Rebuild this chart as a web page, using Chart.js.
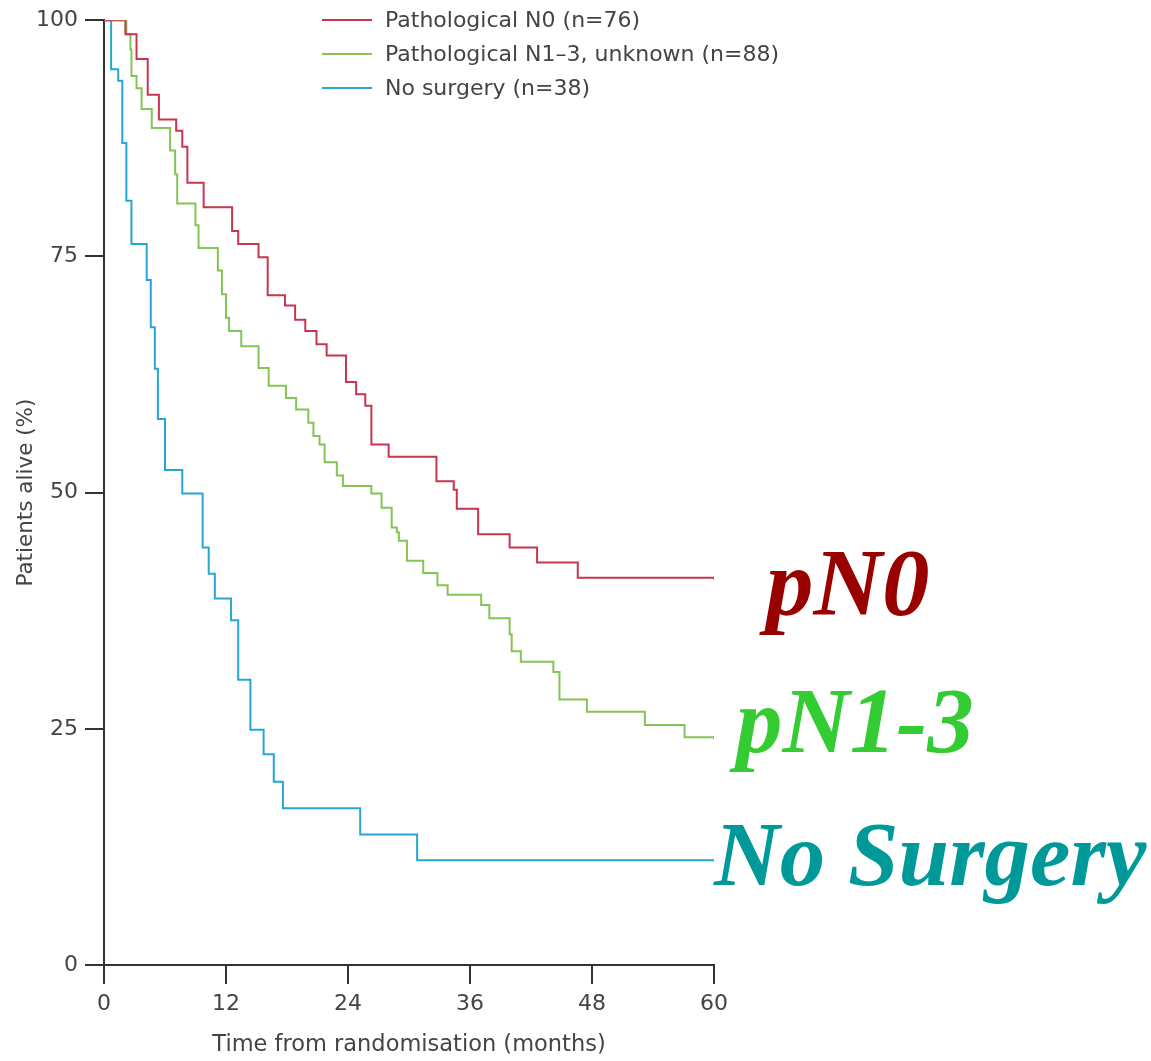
<!DOCTYPE html>
<html>
<head>
<meta charset="utf-8">
<script src="https://cdn.jsdelivr.net/npm/chart.js@4"></script>
<style>
  html, body { margin: 0; padding: 0; background: #fff; }
  #wrap { width: 1151px; height: 1061px; }
</style>
</head>
<body>
<div id="wrap"><canvas id="kmChart" width="1151" height="1061"></canvas></div>
<script>
// ===============================
// DATA
// ===============================
const seriesLabels = ['Pathological N0 (n=76)', 'Pathological N1\u20133, unknown (n=88)', 'No surgery (n=38)'];
const seriesColors = ['#c7354f', '#84c454', '#23a7d4'];
const sideLabels = ['pN0', 'pN1-3', 'No Surgery'];
const sideColors = ['#990000', '#33cc33', '#009999'];

const n0Months = [0, 2.1, 3.2, 4.3, 5.4, 7.1, 7.7, 8.2, 9.8, 12.6, 13.2, 15.2, 16.1, 17.8, 18.8, 19.8, 20.9, 21.9, 23.8, 24.8, 25.7, 26.3, 28.0, 32.7, 34.4, 34.7, 36.8, 39.9, 42.6, 46.6, 60];
const n0Alive = [100, 98.5, 95.9, 92.1, 89.5, 88.3, 86.6, 82.8, 80.2, 77.7, 76.3, 74.9, 70.9, 69.8, 68.3, 67.1, 65.7, 64.5, 61.7, 60.4, 59.2, 55.1, 53.8, 51.2, 50.3, 48.3, 45.6, 44.2, 42.6, 41.0, 40.8];

const n13Months = [0, 1.8, 2.2, 2.6, 2.7, 3.2, 3.7, 4.7, 6.5, 7.0, 7.2, 9.0, 9.3, 11.2, 11.6, 12.0, 12.3, 13.5, 15.2, 16.2, 17.9, 18.9, 20.1, 20.6, 21.2, 21.7, 22.9, 23.5, 26.3, 27.3, 28.3, 28.8, 29.0, 29.8, 31.4, 32.8, 33.8, 37.1, 37.9, 39.9, 40.1, 41.0, 44.2, 44.8, 47.5, 53.2, 57.1, 60];
const n13Alive = [100, 100, 98.5, 96.9, 94.1, 92.8, 90.6, 88.6, 86.2, 83.7, 80.6, 78.3, 75.9, 73.5, 71.0, 68.5, 67.1, 65.5, 63.2, 61.3, 60.0, 58.8, 57.4, 56.0, 55.1, 53.2, 51.8, 50.7, 49.9, 48.4, 46.3, 45.8, 44.9, 42.8, 41.5, 40.2, 39.2, 38.1, 36.7, 35.0, 33.2, 32.1, 31.0, 28.1, 26.8, 25.4, 24.1, 23.9];

const noSurgMonths = [0, 0.7, 1.4, 1.8, 2.2, 2.7, 4.2, 4.6, 5.0, 5.3, 6.0, 7.7, 9.7, 10.3, 10.9, 12.5, 13.2, 14.4, 15.7, 16.7, 17.6, 25.2, 30.8, 60];
const noSurgAlive = [100, 94.8, 93.6, 87.0, 80.9, 76.3, 72.5, 67.5, 63.1, 57.8, 52.4, 49.9, 44.2, 41.4, 38.8, 36.5, 30.2, 24.9, 22.3, 19.4, 16.6, 13.8, 11.1, 11.1];

const xTicks = [0, 12, 24, 36, 48, 60];
const yTicks = [0, 25, 50, 75, 100];

const toPoints = (xs, ys) => xs.map((x, i) => ({ x: x, y: ys[i] }));

// ===============================
// TEXTS DRAWN ON TOP (legend, axis titles, big labels)
// ===============================
const overlayPlugin = {
  id: 'overlay',
  afterDraw(chart) {
    const ctx = chart.ctx;
    const area = chart.chartArea;
    ctx.save();

    // legend
    ctx.font = '22px "DejaVu Sans"';
    ctx.textBaseline = 'middle';
    ctx.textAlign = 'left';
    chart.data.datasets.forEach((ds, i) => {
      const y = 20 + i * 34;
      ctx.strokeStyle = ds.borderColor;
      ctx.lineWidth = 2;
      ctx.beginPath();
      ctx.moveTo(322, y);
      ctx.lineTo(372, y);
      ctx.stroke();
      ctx.fillStyle = '#444';
      ctx.fillText(ds.label, 385, y + 1);
    });

    // axis titles
    ctx.fillStyle = '#444';
    ctx.font = '22.5px "DejaVu Sans"';
    ctx.textAlign = 'center';
    ctx.fillText('Time from randomisation (months)', (area.left + area.right) / 2, 1045);
    ctx.save();
    ctx.font = '21.5px "DejaVu Sans"';
    ctx.translate(26, (area.top + area.bottom) / 2);
    ctx.rotate(-Math.PI / 2);
    ctx.fillText('Patients alive (%)', 0, 0);
    ctx.restore();

    // big labels at the end of the curves
    const spots = [[766, 615, 95], [736, 752, 93], [714, 885, 91]];
    ctx.textAlign = 'left';
    ctx.textBaseline = 'alphabetic';
    sideLabels.forEach((txt, i) => {
      ctx.font = 'italic bold ' + spots[i][2] + 'px "Liberation Serif"';
      ctx.fillStyle = sideColors[i];
      ctx.fillText(txt, spots[i][0], spots[i][1]);
    });
    ctx.restore();
  }
};

// ===============================
// KAPLAN-MEIER CHART
// ===============================
const kmCtx = document.getElementById('kmChart').getContext('2d');
const kmChart = new Chart(kmCtx, {
  type: 'line',
  data: {
    datasets: [
      { label: seriesLabels[0], data: toPoints(n0Months, n0Alive), borderColor: seriesColors[0] },
      { label: seriesLabels[1], data: toPoints(n13Months, n13Alive), borderColor: seriesColors[1] },
      { label: seriesLabels[2], data: toPoints(noSurgMonths, noSurgAlive), borderColor: seriesColors[2] },
    ].map(ds => Object.assign(ds, { stepped: 'before', borderWidth: 2, pointRadius: 0, fill: false }))
  },
  options: {
    responsive: false,
    animation: false,
    layout: { padding: { top: 19, right: 437, left: 0, bottom: 0 } },
    plugins: {
      legend: { display: false },
      tooltip: { enabled: false },
    },
    scales: {
      x: {
        type: 'linear',
        min: 0,
        max: 60,
        afterFit: (s) => { s.height = 96; },
        afterBuildTicks: (s) => { s.ticks = xTicks.map(v => ({ value: v })); },
        grid: { drawOnChartArea: false, drawTicks: true, tickLength: 19, color: '#333', lineWidth: 2 },
        border: { display: true, color: '#333', width: 2 },
        ticks: { color: '#444', padding: 7, font: { family: 'DejaVu Sans', size: 22 }, maxRotation: 0 },
      },
      y: {
        min: 0,
        max: 100,
        afterFit: (s) => { s.width = 104; },
        afterBuildTicks: (s) => { s.ticks = yTicks.map(v => ({ value: v })); },
        grid: { drawOnChartArea: false, drawTicks: true, tickLength: 19, color: '#333', lineWidth: 2 },
        border: { display: true, color: '#333', width: 2 },
        ticks: { color: '#444', padding: 7, font: { family: 'DejaVu Sans', size: 22 } },
      },
    },
  },
  plugins: [overlayPlugin],
});
</script>
</body>
</html>
